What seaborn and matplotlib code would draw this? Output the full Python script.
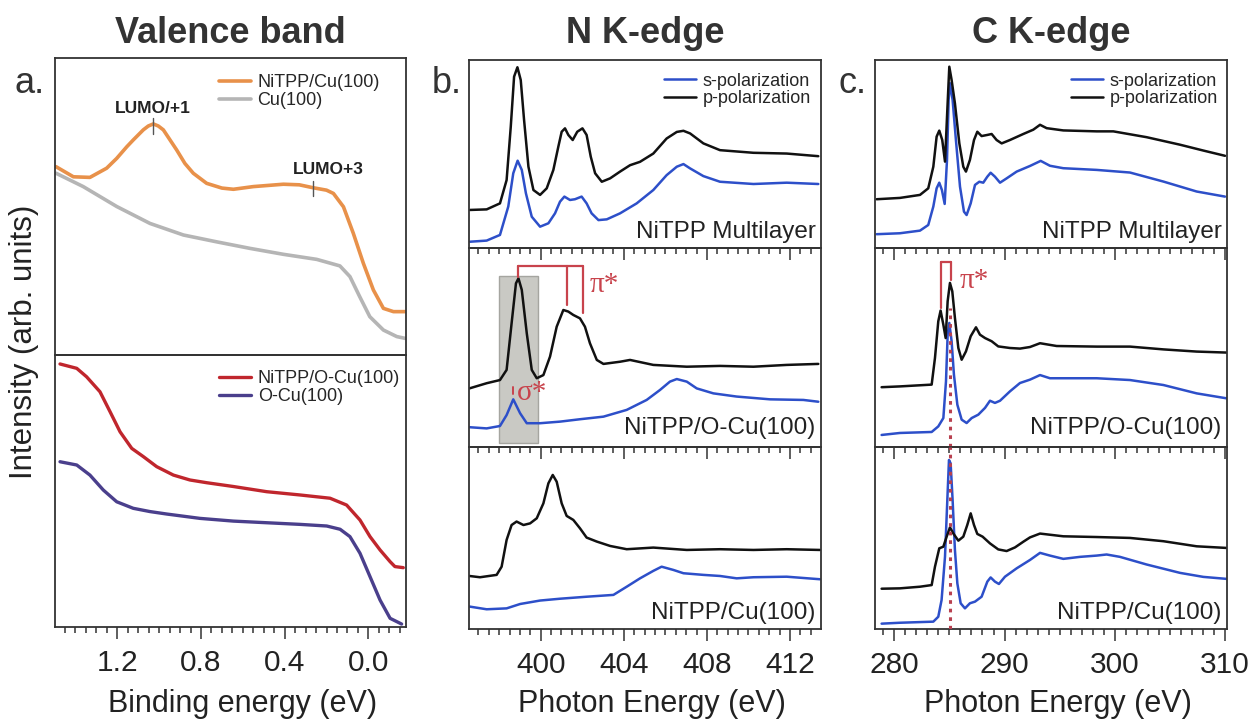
import matplotlib
matplotlib.use("Agg")
import matplotlib.pyplot as plt
import seaborn as sns
from matplotlib.ticker import MultipleLocator
from matplotlib.patches import Rectangle

# ---------------- data ----------------
# Valence band, top panel
VB_TOP_NITPP_E = [1.493, 1.410, 1.331, 1.251, 1.203, 1.155, 1.124, 1.076, 1.052, 1.028, 1.004, 0.980, 0.948,
                  0.916, 0.877, 0.837, 0.773, 0.700, 0.645, 0.550, 0.406, 0.330, 0.263, 0.200, 0.167, 0.119,
                  0.072, 0.024, -0.024, -0.072, -0.120, -0.176]
VB_TOP_NITPP_I = [63.4, 60.0, 59.8, 62.9, 66.2, 70.1, 72.4, 75.8, 77.1, 77.8, 77.1, 75.8, 72.4,
                  69.0, 64.5, 61.2, 57.8, 56.2, 55.8, 56.7, 57.5, 57.3, 56.3, 55.5, 54.4, 49.9,
                  41.0, 30.9, 21.9, 15.7, 14.6, 14.6]
VB_TOP_CU_E = [1.493, 1.363, 1.203, 1.044, 0.884, 0.725, 0.566, 0.406, 0.247, 0.136, 0.088, 0.041,
               -0.007, -0.072, -0.136, -0.176]
VB_TOP_CU_I = [61.2, 56.7, 50.0, 44.3, 40.4, 38.1, 35.9, 33.9, 32.2, 30.0, 26.4, 19.6,
               12.9, 8.4, 6.2, 5.6]
# Valence band, bottom panel
VB_BOT_NITPP_E = [1.474, 1.394, 1.347, 1.283, 1.235, 1.187, 1.131, 1.076, 1.012, 0.932, 0.853, 0.773,
                  0.645, 0.486, 0.327, 0.183, 0.104, 0.040, -0.008, -0.056, -0.104, -0.127, -0.167]
VB_BOT_NITPP_I = [96.7, 95.1, 92.0, 86.5, 79.2, 71.8, 65.7, 62.7, 59.0, 55.9, 54.1, 53.1,
                  51.7, 49.8, 48.6, 47.4, 44.9, 39.4, 33.3, 28.4, 24.1, 22.3, 21.9]
VB_BOT_OCU_E = [1.474, 1.394, 1.331, 1.267, 1.203, 1.124, 1.044, 0.964, 0.805, 0.645, 0.486, 0.327,
                0.199, 0.135, 0.088, 0.040, -0.008, -0.056, -0.104, -0.159]
VB_BOT_OCU_I = [60.8, 59.6, 55.9, 50.4, 46.1, 43.7, 42.5, 41.6, 40.0, 39.0, 38.4, 37.8,
                37.2, 36.0, 33.3, 27.2, 18.6, 10.0, 3.3, 1.2]

# N K-edge, multilayer
N_ML_P_E = [396.60, 397.40, 398.04, 398.36, 398.56, 398.72, 398.88, 399.04, 399.20, 399.41, 399.65, 399.97,
            400.29, 400.61, 400.85, 401.01, 401.17, 401.33, 401.54, 401.76, 402.01, 402.21, 402.41, 402.62,
            402.94, 403.34, 403.82, 404.30, 404.78, 405.42, 406.06, 406.55, 406.87, 407.19, 407.83, 408.63,
            410.24, 411.84, 413.36]
N_ML_P_I = [20.4, 20.7, 23.9, 36.3, 64.7, 91.3, 96.3, 89.5, 68.3, 43.4, 31.0, 28.4,
            31.9, 41.7, 54.1, 62.0, 63.8, 60.3, 57.6, 62.0, 63.8, 60.3, 48.7, 39.9,
            35.4, 37.2, 40.8, 44.2, 46.0, 50.4, 58.4, 61.9, 62.5, 61.1, 55.8, 52.2,
            50.8, 50.4, 49.0]
N_ML_S_E = [396.60, 397.40, 398.04, 398.44, 398.68, 398.89, 399.09, 399.29, 399.57, 399.97, 400.37, 400.69,
            400.93, 401.14, 401.41, 401.65, 401.97, 402.21, 402.45, 402.78, 403.18, 403.82, 404.62, 405.42,
            406.06, 406.55, 406.87, 407.19, 407.83, 408.63, 410.24, 411.84, 413.36]
N_ML_S_I = [3.5, 4.1, 7.1, 22.2, 39.9, 46.6, 41.7, 29.2, 16.8, 11.5, 13.3, 18.6,
            24.8, 27.5, 25.7, 26.1, 27.5, 23.9, 18.6, 15.0, 15.4, 18.6, 23.9, 31.0,
            38.9, 43.4, 44.8, 42.5, 38.4, 35.4, 34.2, 34.9, 34.2]
# N K-edge, NiTPP/O-Cu(100)
N_OCU_P_E = [396.57, 397.40, 398.04, 398.36, 398.60, 398.81, 398.93, 399.09, 399.33, 399.57, 399.81, 400.13,
             400.45, 400.77, 401.09, 401.33, 401.57, 401.89, 402.13, 402.37, 402.70, 403.02, 403.82, 404.30,
             405.42, 407.03, 408.63, 410.24, 411.84, 413.36]
N_OCU_P_I = [29.6, 32.2, 33.8, 38.9, 62.3, 82.4, 84.9, 79.1, 57.3, 38.9, 34.7, 36.3,
             45.6, 60.6, 69.0, 68.2, 66.5, 64.8, 60.6, 52.3, 43.9, 41.9, 43.0, 43.9,
             41.4, 40.5, 40.9, 40.5, 41.4, 41.9]
N_OCU_S_E = [396.57, 397.40, 398.04, 398.36, 398.68, 399.01, 399.33, 399.97, 400.93, 401.89, 403.02, 404.14,
             405.10, 405.74, 406.22, 406.55, 407.03, 407.51, 408.31, 409.43, 411.04, 412.64, 413.36]
N_OCU_S_I = [10.1, 9.5, 10.7, 16.2, 24.1, 17.1, 12.1, 12.1, 12.9, 14.1, 15.4, 18.8,
             23.8, 28.8, 33.0, 34.3, 33.0, 29.6, 27.1, 25.5, 24.1, 23.8, 22.9]
# N K-edge, NiTPP/Cu(100)
N_CU_P_E = [396.57, 397.08, 397.88, 398.12, 398.36, 398.60, 398.84, 399.17, 399.49, 399.81, 400.13, 400.37,
            400.58, 400.77, 401.01, 401.25, 401.57, 401.89, 402.21, 402.70, 403.34, 404.14, 405.42, 407.03,
            408.63, 410.24, 411.84, 413.44]
N_CU_P_I = [29.3, 28.6, 29.9, 34.4, 49.1, 57.3, 59.2, 57.3, 58.2, 61.0, 69.2, 80.2,
            84.8, 81.1, 69.2, 62.3, 60.1, 55.5, 50.4, 48.2, 45.8, 44.0, 44.9, 43.6,
            44.0, 43.6, 44.0, 43.6]
N_CU_S_E = [396.57, 397.40, 398.36, 399.01, 399.97, 400.93, 402.21, 403.50, 404.14, 404.78, 405.42, 405.82,
            406.39, 406.87, 407.83, 408.63, 409.43, 410.24, 411.84, 413.44]
N_CU_S_I = [12.5, 11.0, 11.5, 13.9, 15.8, 16.8, 17.9, 18.9, 23.4, 28.0, 32.1, 34.4,
            32.6, 30.8, 29.9, 29.3, 28.0, 28.6, 28.9, 27.5]

# C K-edge, multilayer
C_ML_P_E = [278.40, 280.51, 282.33, 283.08, 283.54, 283.84, 284.08, 284.35, 284.60, 284.81, 284.99, 285.20,
            285.50, 285.90, 286.26, 286.50, 286.86, 287.23, 287.53, 287.92, 288.44, 288.83, 289.28, 289.74,
            290.49, 291.70, 292.61, 293.22, 293.82, 295.33, 298.36, 299.87, 302.89, 305.92, 308.03, 310.00]
C_ML_P_I = [26.1, 26.8, 28.4, 31.9, 43.4, 59.4, 62.6, 57.6, 46.1, 73.6, 96.6, 89.5,
            77.1, 55.8, 43.4, 40.8, 47.0, 57.6, 62.0, 59.7, 60.3, 60.8, 57.6, 55.8,
            57.6, 60.8, 63.1, 65.7, 63.9, 62.7, 62.2, 62.2, 59.1, 55.1, 52.0, 49.2]
C_ML_S_E = [278.40, 280.51, 282.33, 283.08, 283.54, 283.84, 284.08, 284.32, 284.57, 284.78, 284.93, 285.05,
            285.29, 285.59, 285.96, 286.32, 286.56, 286.93, 287.32, 287.71, 288.07, 288.44, 288.74, 289.13,
            289.59, 290.19, 291.10, 292.31, 293.28, 294.12, 295.33, 298.36, 301.38, 304.41, 307.43, 310.00]
C_ML_S_I = [7.5, 8.0, 9.4, 12.4, 22.2, 31.9, 34.9, 31.0, 23.6, 46.9, 78.9, 87.8,
            78.9, 57.6, 32.8, 19.5, 17.7, 23.9, 33.7, 35.4, 34.9, 38.1, 40.2, 38.1,
            34.9, 37.2, 40.8, 43.8, 46.5, 43.9, 42.6, 41.7, 40.3, 35.5, 30.2, 27.5]
# C K-edge, NiTPP/O-Cu(100)
C_OCU_P_E = [278.85, 280.51, 283.39, 283.69, 283.99, 284.20, 284.45, 284.66, 284.84, 285.05, 285.26, 285.50,
             285.81, 286.11, 286.50, 286.93, 287.41, 287.77, 288.23, 288.83, 289.43, 290.49, 291.40, 292.31,
             293.22, 294.73, 298.36, 301.38, 304.41, 307.43, 310.15]
C_OCU_P_I = [30.2, 30.6, 31.5, 44.9, 63.3, 68.7, 61.6, 54.9, 73.4, 82.6, 78.4, 65.0,
             49.9, 44.0, 48.2, 55.8, 60.3, 56.6, 54.9, 53.3, 50.7, 49.9, 49.6, 50.4,
             52.3, 50.9, 50.6, 50.6, 49.2, 48.1, 47.6]
C_OCU_S_E = [278.85, 280.51, 283.39, 283.99, 284.45, 284.69, 284.84, 284.99, 285.20, 285.41, 285.72, 286.11,
             286.56, 287.02, 287.62, 288.23, 288.68, 289.13, 289.59, 290.49, 291.40, 292.31, 293.22, 294.12,
             295.33, 298.36, 301.38, 304.41, 307.43, 310.15]
C_OCU_S_I = [6.2, 7.2, 7.7, 10.5, 14.7, 33.2, 56.6, 62.5, 53.3, 36.5, 21.4, 13.9,
             12.2, 14.7, 16.4, 19.8, 23.4, 22.3, 23.4, 28.1, 32.3, 34.0, 36.3, 34.7,
             34.7, 34.7, 33.8, 31.3, 27.1, 24.6]
# C K-edge, NiTPP/Cu(100)
C_CU_P_E = [278.85, 280.51, 282.33, 283.39, 283.69, 284.08, 284.45, 284.75, 285.05, 285.35, 285.81, 286.26,
            286.62, 286.93, 287.23, 287.53, 288.01, 288.68, 289.43, 290.19, 290.95, 291.70, 292.31, 293.22,
            295.33, 298.36, 301.38, 304.41, 307.43, 310.15]
C_CU_P_I = [22.3, 22.5, 23.4, 24.3, 34.4, 44.5, 45.4, 50.9, 56.0, 52.7, 48.7, 50.9,
            57.3, 63.7, 57.3, 52.4, 50.9, 47.2, 43.9, 43.0, 45.0, 48.1, 50.5, 52.6,
            51.1, 50.7, 50.2, 48.4, 45.6, 44.7]
C_CU_S_E = [278.85, 280.51, 283.54, 283.99, 284.29, 284.60, 284.81, 284.96, 285.11, 285.29, 285.50, 285.72,
            286.02, 286.41, 286.86, 287.32, 287.92, 288.44, 288.74, 289.13, 289.49, 290.04, 291.10, 292.31,
            293.22, 294.12, 295.33, 296.85, 298.36, 299.26, 300.47, 302.89, 305.92, 308.03, 310.15]
C_CU_S_I = [3.1, 3.6, 4.2, 6.9, 16.1, 39.9, 71.0, 93.0, 91.2, 71.0, 43.6, 25.2,
            14.3, 11.5, 14.3, 15.2, 17.9, 26.2, 28.5, 26.2, 24.9, 28.9, 33.5, 38.1,
            42.0, 40.5, 38.7, 39.8, 40.5, 41.1, 39.8, 35.6, 31.0, 28.8, 27.7]

# tick labels / annotations
VB_TICKS = [1.2, 0.8, 0.4, 0.0]
VB_TICK_LABELS = ["1.2", "0.8", "0.4", "0.0"]
N_TICKS = [400, 404, 408, 412]
C_TICKS = [280, 290, 300, 310]
LUMO_LABELS = ["LUMO/+1", "LUMO+3"]
LUMO_E = [1.03, 0.263]
LUMO_TICK_LO = [74.4, 53.5]
LUMO_TICK_HI = [79.7, 58.7]
LUMO_TEXT_E = [1.03, 0.19]
LUMO_TEXT_I = [81.5, 61.0]
SIGMA_BOX_E = [398.01, 399.86]
SIGMA_BOX_I = [2.3, 86.3]
N_PI_E = [398.89, 401.25, 402.02]
N_PI_LO = [85.8, 71.5, 67.3]
N_PI_TOP = 91.3
C_PI_E = [284.20, 285.11]
C_PI_LO = [70.0, 84.2]
C_PI_TOP = 93.1
C_DOT_E = 285.05

# ---------------- style ----------------
sns.set_theme(style="ticks")
plt.rcParams["font.family"] = ["Liberation Sans", "DejaVu Sans"]

ORANGE = "#e8914a"
GRAY = "#b5b5b5"
RED = "#c0262d"
PURPLE = "#4a3f8c"
BLUE = "#2d4fc9"
BLACK = "#111111"
ANNO = "#c8434c"
SPINE = "#333333"
TXT = "#222222"

W, H = 1252, 719
fig = plt.figure(figsize=(W / 100, H / 100), dpi=100)
fig.patch.set_facecolor("white")


def rect(x0, x1, y0, y1):
    return [x0 / W, 1 - y1 / H, (x1 - x0) / W, (y1 - y0) / H]


def style(ax, xlim, ticks=None, minor=None, show_ticks=True, show_labels=False, labels=None):
    ax.set_xlim(*xlim)
    ax.set_ylim(0, 100)
    ax.set_yticks([])
    ax.patch.set_visible(False)
    for s in ax.spines.values():
        s.set_color(SPINE)
        s.set_linewidth(1.3)
    if ticks is not None:
        if labels is not None:
            ax.set_xticks(ticks, labels=labels)
        else:
            ax.set_xticks(ticks)
        ax.xaxis.set_minor_locator(MultipleLocator(minor))
    ax.tick_params(axis="x", which="major", direction="out", length=8.5, width=1.1, color=SPINE,
                   labelsize=21.5, labelcolor=TXT, pad=7, bottom=show_ticks, top=False,
                   labelbottom=show_labels)
    ax.tick_params(axis="x", which="minor", direction="out", length=4.5, width=1.1, color=SPINE,
                   bottom=show_ticks, top=False)
    ax.set_xlabel("")
    ax.set_ylabel("")


def line(ax, x, y, c, lw, label=None):
    sns.lineplot(x=x, y=y, ax=ax, color=c, linewidth=lw, sort=False, estimator=None, label=label,
                 legend=False, solid_joinstyle="round", solid_capstyle="round")


def legend(ax, anchor, spacing):
    ax.legend(handles=ax.lines[:2], labels=[l.get_label() for l in ax.lines[:2]], loc="upper right",
              bbox_to_anchor=anchor, frameon=False, fontsize=13, handlelength=1.8, handletextpad=0.35,
              labelspacing=spacing, borderpad=0, borderaxespad=0)


def tag(ax, s, y):
    ax.text(0.985, y, s, transform=ax.transAxes, ha="right", va="center", fontsize=17.5, color=TXT)


VB_LIM = (1.498, -0.180)
N_LIM = (396.55, 413.49)
C_LIM = (278.25, 310.18)

# ---------- column a ----------
axa1 = fig.add_axes(rect(55, 406, 58, 355))
axa2 = fig.add_axes(rect(55, 406, 355, 627.3))
line(axa1, VB_TOP_NITPP_E, VB_TOP_NITPP_I, ORANGE, 2.6, "NiTPP/Cu(100)")
line(axa1, VB_TOP_CU_E, VB_TOP_CU_I, GRAY, 2.6, "Cu(100)")
style(axa1, VB_LIM, show_ticks=False)
legend(axa1, ((380 - 55) / 351, 0.945), 0.05)
for e, lo, hi in zip(LUMO_E, LUMO_TICK_LO, LUMO_TICK_HI):
    axa1.plot([e, e], [lo, hi], color="#555555", lw=1.0)
for s, e, v in zip(LUMO_LABELS, LUMO_TEXT_E, LUMO_TEXT_I):
    axa1.text(e, v, s, ha="center", va="baseline", fontsize=12.5, fontweight="bold", color=TXT)

line(axa2, VB_BOT_NITPP_E, VB_BOT_NITPP_I, RED, 2.4, "NiTPP/O-Cu(100)")
line(axa2, VB_BOT_OCU_E, VB_BOT_OCU_I, PURPLE, 2.4, "O-Cu(100)")
style(axa2, VB_LIM, VB_TICKS, 0.05, True, True, VB_TICK_LABELS)
legend(axa2, ((400 - 55) / 351, 0.945), 0.05)
axa2.set_xlabel("Binding energy (eV)", fontsize=22, color=TXT)
axa2.xaxis.set_label_coords(0.533, -0.28)
axa2.xaxis.label.set_verticalalignment("center")

# ---------- columns b and c ----------
ys = [60.3, 248.3, 447.3, 629.3]
axb = [fig.add_axes(rect(469, 821, ys[i], ys[i + 1])) for i in range(3)]
axc = [fig.add_axes(rect(875, 1227, ys[i], ys[i + 1])) for i in range(3)]

b_data = [(N_ML_S_E, N_ML_S_I, N_ML_P_E, N_ML_P_I, "NiTPP Multilayer", 0.088),
          (N_OCU_S_E, N_OCU_S_I, N_OCU_P_E, N_OCU_P_I, "NiTPP/O-Cu(100)", 0.095),
          (N_CU_S_E, N_CU_S_I, N_CU_P_E, N_CU_P_I, "NiTPP/Cu(100)", 0.088)]
c_data = [(C_ML_S_E, C_ML_S_I, C_ML_P_E, C_ML_P_I, "NiTPP Multilayer", 0.088),
          (C_OCU_S_E, C_OCU_S_I, C_OCU_P_E, C_OCU_P_I, "NiTPP/O-Cu(100)", 0.095),
          (C_CU_S_E, C_CU_S_I, C_CU_P_E, C_CU_P_I, "NiTPP/Cu(100)", 0.091)]

# sigma* box behind the curves
axb[1].add_patch(Rectangle((SIGMA_BOX_E[0], SIGMA_BOX_I[0]), SIGMA_BOX_E[1] - SIGMA_BOX_E[0],
                           SIGMA_BOX_I[1] - SIGMA_BOX_I[0], facecolor="#c9c9c4", edgecolor="#a5a5a0",
                           lw=1.0, zorder=0))

for i, (ax, d) in enumerate(zip(axb, b_data)):
    line(ax, d[0], d[1], BLUE, 1.8, "s-polarization" if i == 0 else None)
    line(ax, d[2], d[3], BLACK, 1.8, "p-polarization" if i == 0 else None)
    style(ax, N_LIM, N_TICKS, 0.5, True, i == 2)
    tag(ax, d[4], d[5])
for i, (ax, d) in enumerate(zip(axc, c_data)):
    line(ax, d[0], d[1], BLUE, 1.8, "s-polarization" if i == 0 else None)
    line(ax, d[2], d[3], BLACK, 1.8, "p-polarization" if i == 0 else None)
    style(ax, C_LIM, C_TICKS, 1, True, i == 2)
    tag(ax, d[4], d[5])

legend(axb[0], ((811 - 469) / 352, 0.935), 0.05)
legend(axc[0], ((1218 - 875) / 352, 0.935), 0.05)

# pi* bracket, N K-edge
axb[1].plot([N_PI_E[0], N_PI_E[-1]], [N_PI_TOP, N_PI_TOP], color=ANNO, lw=1.6)
for e, lo in zip(N_PI_E, N_PI_LO):
    axb[1].plot([e, e], [lo, N_PI_TOP], color=ANNO, lw=1.6)
axb[1].text(402.37, 81.6, "π*", color=ANNO, fontsize=21, va="center", ha="left",
            family=["Liberation Serif", "DejaVu Serif"])
axb[1].plot([398.68, 398.68], [27.0, 30.2], color=ANNO, lw=1.4)
axb[1].text(398.84, 27.5, "σ*", color=ANNO, fontsize=21, va="center", ha="left",
            family=["Liberation Serif", "DejaVu Serif"])

# pi* bracket, C K-edge
axc[1].plot([C_PI_E[0], C_PI_E[-1]], [C_PI_TOP, C_PI_TOP], color=ANNO, lw=1.6)
for e, lo in zip(C_PI_E, C_PI_LO):
    axc[1].plot([e, e], [lo, C_PI_TOP], color=ANNO, lw=1.6)
axc[1].text(285.96, 83.4, "π*", color=ANNO, fontsize=21, va="center", ha="left",
            family=["Liberation Serif", "DejaVu Serif"])
axc[1].plot([C_DOT_E, C_DOT_E], [0, 70], color="#b8404f", lw=2.2, ls=(0, (1.2, 1.6)), zorder=5)
axc[2].plot([C_DOT_E, C_DOT_E], [0, 100], color="#b8404f", lw=2.2, ls=(0, (1.2, 1.6)), zorder=5)

for ax in (axb[2], axc[2]):
    ax.set_xlabel("Photon Energy (eV)", fontsize=22, color=TXT)
    ax.xaxis.set_label_coords(0.52, -0.41)
    ax.xaxis.label.set_verticalalignment("center")

# titles, panel letters, y label
for cx, t in [((55 + 406) / 2, "Valence band"), ((469 + 821) / 2, "N K-edge"), ((875 + 1227) / 2, "C K-edge")]:
    fig.text(cx / W, 1 - 43 / H, t, ha="center", va="baseline", fontsize=26, fontweight="bold", color="#333333")
for x, t in [(15, "a."), (432, "b."), (838, "c.")]:
    fig.text(x / W, 1 - 93 / H, t, ha="left", va="baseline", fontsize=26, color="#333333")
fig.text(24 / W, 1 - 342 / H, "Intensity (arb. units)", rotation=90, ha="center", va="center",
         fontsize=22.5, color=TXT)

fig.savefig("out.png", dpi=100, facecolor="white")
